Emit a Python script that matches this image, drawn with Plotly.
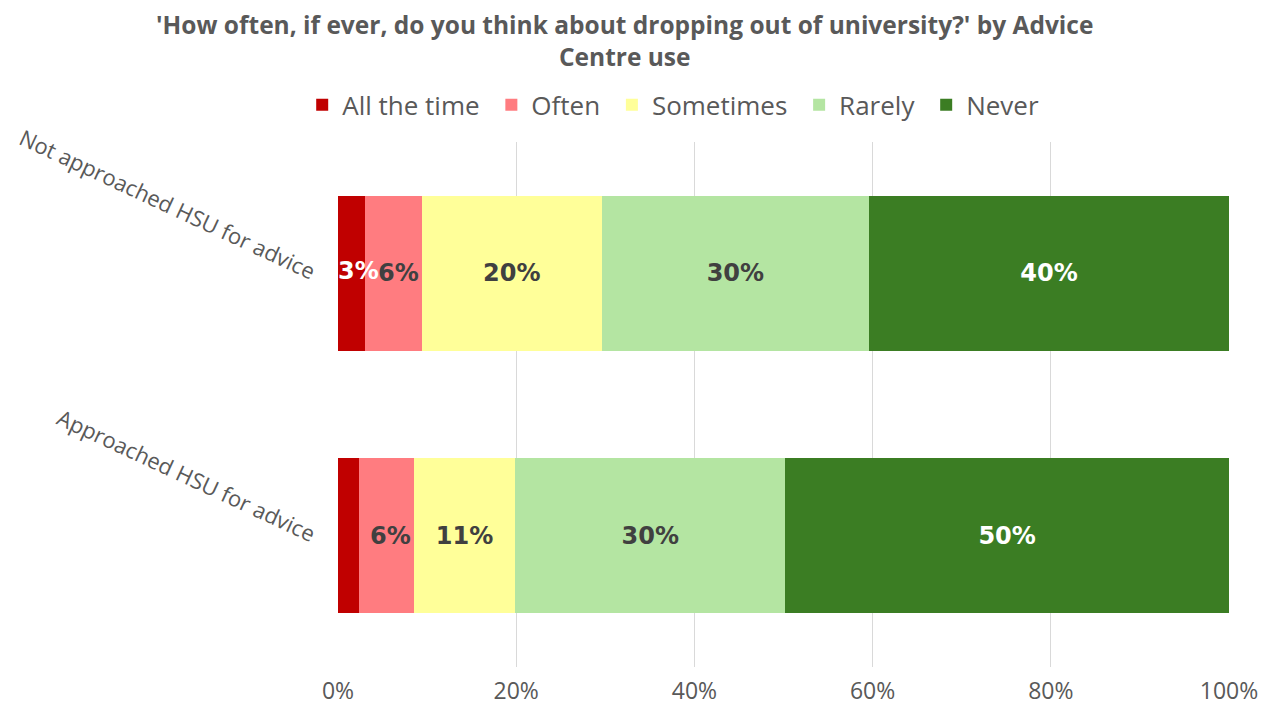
import plotly.graph_objects as go

# Survey groups (top to bottom) and response shares in percent
groups = ["Not approached HSU for advice", "Approached HSU for advice"]
responses = ["All the time", "Often", "Sometimes", "Rarely", "Never"]
all_the_time = [3.0, 2.4]
often = [6.4, 6.1]
sometimes = [20.2, 11.4]
rarely = [30.0, 30.3]
never = [40.4, 49.8]

series = [all_the_time, often, sometimes, rarely, never]
colors = ["#C00000", "#FF7C80", "#FFFF99", "#B4E5A2", "#3B7D23"]
label_colors = ["#FFFFFF", "#404040", "#404040", "#404040", "#FFFFFF"]
label_anchor = ["start", "end", "middle", "middle", "middle"]

# trailing no-break space widens the gap between legend entries
legend_pad = "\u00a0"
label_font = dict(family="DejaVu Sans", size=24, weight="bold")


def pct_labels(vals):
    return [f"{round(v)}%" if v >= 2.5 else "" for v in vals]


fig = go.Figure()
for i, (name, vals, col, lcol, anc) in enumerate(
        zip(responses, series, colors, label_colors, label_anchor)):
    shown = name + (legend_pad if i < len(responses) - 1 else "")
    # the first segment is narrow; its label is drawn in a separate top layer
    text = [""] * len(vals) if i == 0 else pct_labels(vals)
    fig.add_trace(go.Bar(
        name=shown,
        y=groups,
        x=vals,
        orientation="h",
        marker=dict(color=col, line=dict(width=0)),
        text=text,
        texttemplate="%{text}",
        textposition="inside",
        insidetextanchor=anc,
        textangle=0,
        constraintext="none",
        textfont=dict(**label_font, color=lcol),
        hoverinfo="skip",
    ))

# label of the narrow "All the time" segment, kept above the neighbouring bar
fig.add_trace(go.Scatter(
    x=[0] * len(groups),
    y=groups,
    mode="text",
    text=pct_labels(all_the_time),
    textposition="middle right",
    textfont=dict(**label_font, color=label_colors[0]),
    showlegend=False,
    hoverinfo="skip",
    cliponaxis=False,
))

fig.update_layout(
    barmode="stack",
    bargap=0.41,
    width=1275,
    height=709,
    margin=dict(l=338, r=46, t=142, b=42, autoexpand=False),
    paper_bgcolor="white",
    plot_bgcolor="white",
    title=dict(
        text="'How often, if ever, do you think about dropping out of university?' by Advice<br>Centre use",
        x=0.49,
        xanchor="center",
        xref="container",
        y=0.952,
        yanchor="top",
        yref="container",
        font=dict(family="Open Sans", size=24.5, color="#595959", weight="bold"),
    ),
    legend=dict(
        orientation="h",
        x=0.528,
        xanchor="center",
        xref="container",
        y=0.852,
        yanchor="middle",
        yref="container",
        font=dict(family="Open Sans", size=26, color="#595959"),
        traceorder="normal",
        itemwidth=30,
    ),
    showlegend=True,
)

fig.update_xaxes(
    range=[0, 100],
    tickvals=[0, 20, 40, 60, 80, 100],
    ticktext=["0%", "20%", "40%", "60%", "80%", "100%"],
    showgrid=True,
    gridcolor="#D9D9D9",
    gridwidth=1,
    zeroline=False,
    showline=False,
    ticks="",
    automargin=False,
    ticklabelstandoff=8,
    tickfont=dict(family="Open Sans", size=23, color="#595959"),
)
fig.update_yaxes(
    categoryorder="array",
    categoryarray=groups[::-1],
    showgrid=False,
    zeroline=False,
    showline=False,
    ticks="",
    automargin=False,
    tickangle=25,
    ticklabelstandoff=22,
    tickfont=dict(family="Open Sans", size=22, color="#595959"),
)

fig.write_html("out.html")
